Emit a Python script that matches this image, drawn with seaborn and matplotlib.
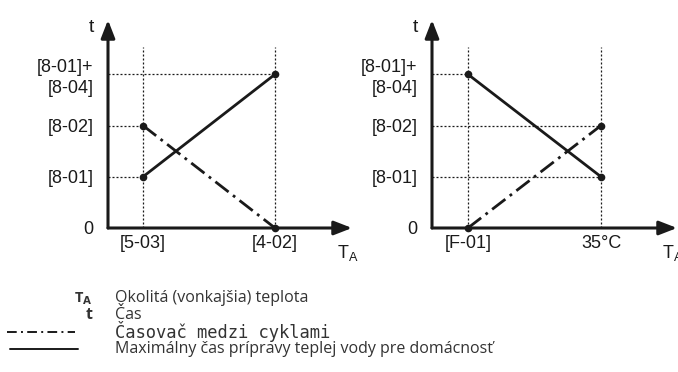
import matplotlib
matplotlib.use("Agg")
import matplotlib.pyplot as plt
from matplotlib.lines import Line2D
import seaborn as sns
import pandas as pd

sns.set_theme(style="white")
plt.rcParams["font.family"] = ["Liberation Sans", "DejaVu Sans"]
plt.rcParams["mathtext.fontset"] = "custom"
plt.rcParams["mathtext.rm"] = "Liberation Sans"

# Level indices on the time axis
y_levels = [0, 1, 2, 3]
y_labels = ["0", "[8-01]", "[8-02]", "[8-01]+\n[8-04]"]

# Left panel: heating with [5-03] / [4-02]
left_xlabels = ["[5-03]", "[4-02]"]
left_x = [0, 1]
left_solid = [1, 3]      # max. DHW preparation time
left_dashdot = [2, 0]    # inter-cycle timer

# Right panel: cooling with [F-01] / 35°C
right_xlabels = ["[F-01]", "35°C"]
right_x = [0, 1]
right_solid = [3, 1]
right_dashdot = [0, 2]

INK = "#1a1a1a"
W, H = 678, 372
fig = plt.figure(figsize=(W / 100, H / 100), dpi=100)


def fx(x):
    return x / W


def fy(y):
    return 1 - y / H


def panel(rect, xlim, xticks, xlabels, solid, dashdot):
    x0, y0, x1, y1 = rect
    ax = fig.add_axes([fx(x0), fy(y1), fx(x1 - x0), (y1 - y0) / H])
    ax.set_facecolor("none")
    ax.set_xlim(*xlim)
    ax.set_ylim(0, 4.06)
    for s in ax.spines.values():
        s.set_visible(False)

    # guide lines
    pts = list(zip(xticks, solid)) + list(zip(xticks, dashdot))
    for xv in xticks:
        ax.plot([xv, xv], [0, 3.54], color=INK, lw=0.9, ls=(0, (1.6, 1.6)), zorder=1)
    for xv, yv in pts:
        if yv > 0:
            ax.plot([xlim[0], xv], [yv, yv], color=INK, lw=0.9, ls=(0, (1.6, 1.6)), zorder=1)

    df = pd.DataFrame({"x": xticks, "solid": solid, "dashdot": dashdot})
    sns.lineplot(data=df, x="x", y="solid", ax=ax, color=INK, lw=2.0,
                 marker="o", markersize=5.5, markeredgewidth=0, clip_on=False, zorder=3)
    sns.lineplot(data=df, x="x", y="dashdot", ax=ax, color=INK, lw=2.0,
                 ls=(0, (6, 2, 1, 2)), marker="o", markersize=5.5,
                 markeredgewidth=0, clip_on=False, zorder=3)

    # axes with arrowheads
    arrow = dict(arrowstyle="-|>,head_length=0.9,head_width=0.35", lw=2.2,
                 color=INK, shrinkA=0, shrinkB=0, mutation_scale=12)
    ax.annotate("", xy=(1, 0), xytext=(0, 0), xycoords="axes fraction",
                arrowprops=arrow, annotation_clip=False, zorder=4)
    ax.annotate("", xy=(0, 1), xytext=(0, 0), xycoords="axes fraction",
                arrowprops=arrow, annotation_clip=False, zorder=4)

    ax.set_xticks(xticks)
    ax.set_xticklabels(xlabels)
    ax.set_yticks(y_levels)
    ax.set_yticklabels(y_labels, linespacing=1.3)
    ax.tick_params(axis="both", length=0, labelsize=13, colors=INK)
    ax.tick_params(axis="x", pad=5)
    ax.tick_params(axis="y", pad=10.5)
    ax.set_xlabel("")
    ax.set_ylabel("")
    ax.grid(False)

    ax.annotate("t", xy=(0, 1), xycoords="axes fraction", xytext=(-12, 1),
                textcoords="offset points", ha="center", va="top",
                fontsize=14, color=INK, annotation_clip=False)
    ax.annotate(r"T$_\mathregular{A}$", xy=(1, 0), xycoords="axes fraction",
                xytext=(-11, -11), textcoords="offset points", ha="left", va="top",
                fontsize=13, color=INK, annotation_clip=False)
    return ax


panel((108, 20, 352, 228), (-0.265, 1.583), left_x, left_xlabels, left_solid, left_dashdot)
panel((432, 20, 677, 228), (-0.27, 1.571), right_x, right_xlabels, right_solid, right_dashdot)

# Key below the diagrams
TXT = "#333333"
key_font = ["Open Sans", "DejaVu Sans"]
fig.text(fx(93), fy(299), r"T$_\mathbf{A}$", ha="right", va="center", fontsize=10.5,
         fontweight="bold", family=key_font, color=TXT)
fig.text(fx(115), fy(298), "Okolitá (vonkajšia) teplota", ha="left", va="center",
         fontsize=11.5, family=key_font, color=TXT)
fig.text(fx(93), fy(315), "t", ha="right", va="center", fontsize=11.5,
         fontweight="bold", family=key_font, color=TXT)
fig.text(fx(115), fy(315), "Čas", ha="left", va="center", fontsize=11.5,
         family=key_font, color=TXT)
fig.text(fx(115), fy(332), "Časovač medzi cyklami", ha="left", va="center",
         fontsize=12.3, family=["DejaVu Sans Mono"], color=TXT)
fig.text(fx(115), fy(349), "Maximálny čas prípravy teplej vody pre domácnosť",
         ha="left", va="center", fontsize=11.5, family=key_font, color=TXT)

fig.add_artist(Line2D([fx(7), fx(75)], [fy(332), fy(332)], color=INK, lw=1.4,
                      ls=(0, (5, 2.2, 1, 2.2)), transform=fig.transFigure))
fig.add_artist(Line2D([fx(10), fx(78)], [fy(349), fy(349)], color=INK, lw=1.4,
                      transform=fig.transFigure))

fig.savefig("out.png", dpi=100)
